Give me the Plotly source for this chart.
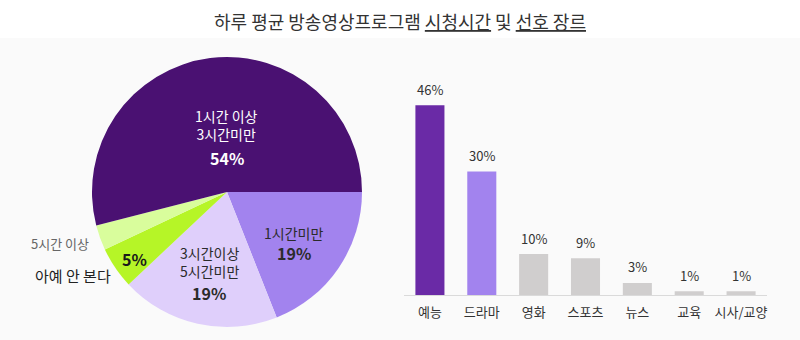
import plotly.graph_objects as go

FONT = "Noto Sans CJK KR"

# ---- data ----
title_text = "하루 평균 방송영상프로그램 <u>시청시간</u> 및 <u>선호 장르</u>"

# slices listed clockwise starting at 3 o'clock
pie_labels = ["1시간미만", "3시간이상 5시간미만", "아예 안 본다", "5시간 이상", "1시간 이상 3시간미만"]
pie_values = [19, 19, 5, 3, 54]
pie_colors = ["#a283ee", "#dfcffb", "#b6f527", "#d9fd9c", "#4a1172"]

genres = ["예능", "드라마", "영화", "스포츠", "뉴스", "교육", "시사/교양"]
genre_values = [46, 30, 10, 9, 3, 1, 1]
genre_colors = ["#6a2aa6", "#a283ee", "#d0cece", "#d0cece", "#d0cece", "#d0cece", "#d0cece"]

W, H = 800, 340


def px(x):
    return x / W


def py(y):
    return 1 - y / H


fig = go.Figure()

# pie: center (227,192), radius 135
fig.add_trace(go.Pie(
    labels=pie_labels,
    values=pie_values,
    sort=False,
    direction="clockwise",
    rotation=90,
    marker=dict(colors=pie_colors, line=dict(width=0)),
    textinfo="none",
    hoverinfo="label+percent",
    domain=dict(x=[px(92), px(362)], y=[py(327), py(57)]),
    showlegend=False,
))

fig.add_trace(go.Bar(
    x=genres,
    y=genre_values,
    marker=dict(color=genre_colors, line=dict(width=0)),
    width=0.56,
    showlegend=False,
    hoverinfo="x+y",
))

annotations = []

# title
annotations.append(dict(
    x=0.5, y=py(20.5), xref="paper", yref="paper", text=title_text,
    showarrow=False, xanchor="center", yanchor="middle",
    font=dict(family=FONT, size=18, color="#333333"),
))

# pie labels (text + layout positions kept separately)
pie_label_layout = [
    ("1시간 이상<br>3시간미만", 226.7, 124.5, 14, "#ffffff", False),
    (f"{pie_values[4]}%", 226.7, 157.7, 16, "#ffffff", True),
    ("1시간미만", 293.3, 233.3, 14, "#2b2b2b", False),
    (f"{pie_values[0]}%", 294, 252.7, 16, "#2b2b2b", True),
    ("3시간이상<br>5시간미만", 209.3, 261.7, 14, "#2b2b2b", False),
    (f"{pie_values[1]}%", 209.3, 293.3, 16, "#2b2b2b", True),
    (f"{pie_values[2]}%", 134, 259.3, 16, "#1a1a1a", True),
    ("5시간 이상", 60, 243.3, 13, "#666666", False),
    ("아예 안 본다", 73, 275, 15, "#222222", False),
]
for text, x, y, size, color, bold in pie_label_layout:
    annotations.append(dict(
        x=px(x), y=py(y), xref="paper", yref="paper",
        text=f"<b>{text}</b>" if bold else text,
        showarrow=False, xanchor="center", yanchor="middle",
        font=dict(family=FONT, size=size, color=color),
    ))

# bar value labels
for g, v in zip(genres, genre_values):
    annotations.append(dict(
        x=g, y=v, xref="x", yref="y", text=f"{v}%",
        showarrow=False, xanchor="center", yanchor="middle", yshift=16,
        font=dict(family=FONT, size=13, color="#333333"),
    ))

fig.update_layout(
    width=W, height=H,
    margin=dict(l=0, r=0, t=0, b=0),
    paper_bgcolor="#fafafa",
    plot_bgcolor="rgba(0,0,0,0)",
    bargap=0.44,
    annotations=annotations,
    shapes=[dict(type="rect", xref="paper", yref="paper", x0=0, x1=1,
                 y0=py(38), y1=1.01, fillcolor="#ffffff", line=dict(width=0),
                 layer="below")],
    xaxis=dict(
        domain=[px(404), px(767)],
        range=[-0.5, 6.5],
        showline=True, linecolor="#dadada", linewidth=1,
        showgrid=False, zeroline=False, ticks="",
        ticklabelstandoff=5,
        tickfont=dict(family=FONT, size=13, color="#333333"),
        fixedrange=True,
    ),
    yaxis=dict(
        domain=[py(295.3), py(88.8)],
        range=[0, 50],
        visible=False, showgrid=False, zeroline=False,
        fixedrange=True,
    ),
    font=dict(family=FONT),
)

fig.write_html("out.html")
